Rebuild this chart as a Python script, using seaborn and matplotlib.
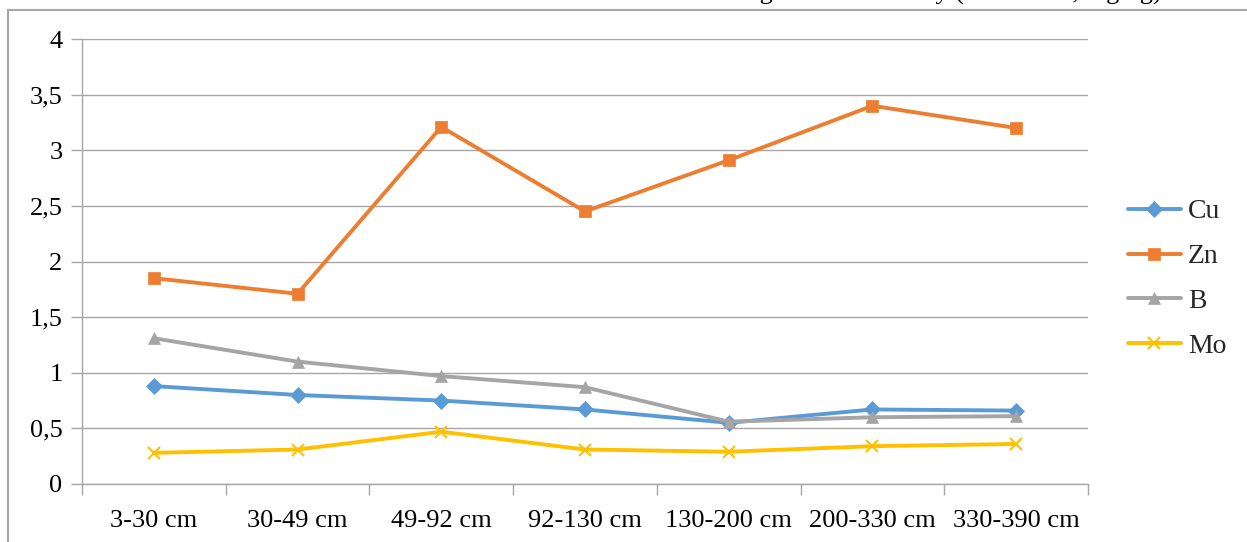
import matplotlib
matplotlib.use("Agg")
import matplotlib.pyplot as plt
from matplotlib.patches import Rectangle
import seaborn as sns
import pandas as pd

# Soil depth intervals and micronutrient contents (mg/kg)
depths = ["3-30 cm", "30-49 cm", "49-92 cm", "92-130 cm", "130-200 cm", "200-330 cm", "330-390 cm"]
cu = [0.88, 0.80, 0.75, 0.67, 0.55, 0.67, 0.66]
zn = [1.85, 1.71, 3.21, 2.45, 2.91, 3.40, 3.20]
b = [1.31, 1.10, 0.97, 0.87, 0.56, 0.60, 0.61]
mo = [0.28, 0.31, 0.47, 0.31, 0.29, 0.34, 0.36]
y_ticks = [0, 0.5, 1, 1.5, 2, 2.5, 3, 3.5, 4]
y_tick_labels = ["0", "0,5", "1", "1,5", "2", "2,5", "3", "3,5", "4"]
title = "Micro-element content along soil horizons by (DTPA test, mg/kg)"

series = [
    ("Cu", cu, "#5B9BD5", "D", 8),
    ("Zn", zn, "#ED7D31", "s", 9),
    ("B", b, "#A5A5A5", "^", 9),
    ("Mo", mo, "#FFC000", "x", 9),
]

sns.set_theme(style="white")
plt.rcParams["font.family"] = ["Liberation Serif", "DejaVu Serif"]

fig = plt.figure(figsize=(12.47, 5.42), dpi=100)
ax = fig.add_axes([82 / 1247, 1 - 484 / 542, (1088 - 82) / 1247, (484 - 39) / 542])

positions = list(range(len(depths)))
for name, vals, color, marker, ms in series:
    df = pd.DataFrame({"pos": positions, "val": vals})
    sns.lineplot(data=df, x="pos", y="val", ax=ax, color=color, marker=marker,
                 markersize=ms, linewidth=2.8, markeredgecolor=color,
                 markeredgewidth=1.5 if marker == "x" else 0.5, label=name)

ax.set_xlim(-0.5, len(depths) - 0.5)
ax.set_ylim(0, 4)
ax.set_yticks(y_ticks)
ax.set_yticklabels(y_tick_labels)
ax.set_xticks(positions)
ax.set_xticklabels(depths)
ax.set_xticks([p - 0.5 for p in range(len(depths) + 1)], minor=True)
ax.set_xlabel("")
ax.set_ylabel("")

grid_c = "#A6A6A6"
ax.yaxis.grid(True, color=grid_c, linewidth=1.0)
ax.xaxis.grid(False)
for s in ["top", "right"]:
    ax.spines[s].set_visible(False)
for s in ["left", "bottom"]:
    ax.spines[s].set_color(grid_c)
    ax.spines[s].set_linewidth(1.0)

ax.tick_params(axis="y", which="major", direction="out", length=8, width=1.0,
               color=grid_c, labelsize=19, pad=6, left=True)
ax.tick_params(axis="x", which="major", length=0, labelsize=19, pad=19, bottom=True)
ax.tick_params(axis="x", which="minor", direction="out", length=8, width=1.0,
               color=grid_c, bottom=True)
for lbl in ax.get_xticklabels() + ax.get_yticklabels():
    lbl.set_color("black")

leg = ax.legend(loc="center left", bbox_to_anchor=(1128 / 1247, 1 - 279 / 542),
                bbox_transform=fig.transFigure, frameon=False, fontsize=20,
                handlelength=1.9, handletextpad=0.25, labelspacing=0.7,
                borderpad=0, borderaxespad=0)

# outer chart frame
fig.patches.append(Rectangle((8 / 1247, -0.1), 1.2, 1.1 - 10 / 542, transform=fig.transFigure,
                             fill=False, edgecolor="#A6A6A6", linewidth=1.5, zorder=0))

fig.text(1162 / 1247, 1.0, title, ha="right", va="baseline", fontsize=19, color="black")

fig.savefig("out.png", dpi=100)
